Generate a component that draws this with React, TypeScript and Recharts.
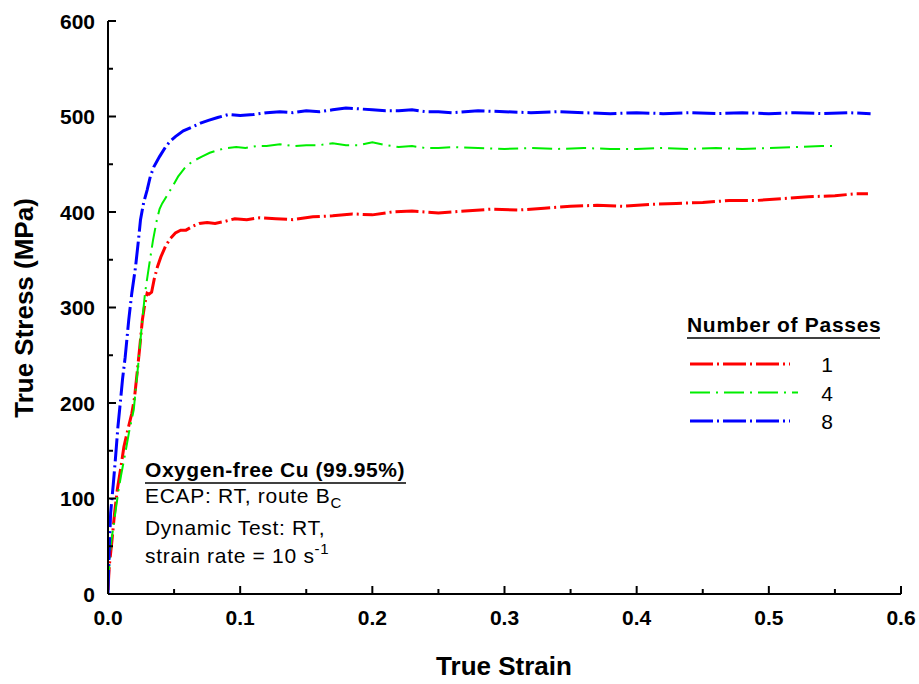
import React from "react";
import { Line, LineChart, XAxis, YAxis } from "recharts";

// 1 pass
const strain1 = [
    0, 0.001, 0.003, 0.005, 0.007, 0.01, 0.012, 0.015, 0.018, 0.02, 0.022, 0.024, 0.026, 0.028,
    0.0296, 0.031, 0.033, 0.035, 0.0375, 0.04, 0.0435, 0.047, 0.051, 0.055, 0.059, 0.064, 0.069,
    0.075, 0.081, 0.088, 0.096, 0.105, 0.115, 0.127, 0.14, 0.155, 0.17, 0.185, 0.2, 0.215, 0.23,
    0.25, 0.27, 0.29, 0.31, 0.33, 0.35, 0.37, 0.39, 0.41, 0.43, 0.45, 0.47, 0.49, 0.51, 0.53, 0.55,
    0.565, 0.575,
];
const stress1 = [
    4, 30, 56, 85, 109, 135, 154, 172, 189, 205, 231, 258, 287, 305, 315, 314, 316, 330, 343, 353,
    364, 372, 378, 381, 381, 385, 388, 389, 388, 390, 393, 392, 394, 393, 392, 395, 396, 398, 397,
    400, 401, 399, 401, 403, 402, 404, 406, 407, 406, 408, 409, 410, 412, 412, 414, 416, 417, 419,
    419,
];

// 4 passes
const strain4 = [
    0, 0.002, 0.005, 0.008, 0.01, 0.013, 0.016, 0.0195, 0.021, 0.023, 0.0255, 0.028, 0.031, 0.034,
    0.037, 0.039, 0.041, 0.045, 0.0485, 0.053, 0.0586, 0.064, 0.071, 0.077, 0.0836, 0.09, 0.097,
    0.104, 0.112, 0.12, 0.13, 0.14, 0.15, 0.16, 0.17, 0.18, 0.19, 0.2, 0.21, 0.22, 0.23, 0.24, 0.25,
    0.26, 0.28, 0.3, 0.32, 0.34, 0.36, 0.38, 0.4, 0.42, 0.44, 0.46, 0.48, 0.5, 0.52, 0.54, 0.551,
];
const stress4 = [
    10, 50, 80, 109, 125, 147, 170, 193, 215, 242, 280, 315, 343, 370, 392, 403, 409, 418, 426, 437,
    447, 453, 458, 462, 465, 467, 468, 467, 469, 469, 471, 469, 470, 470, 472, 470, 470, 473, 470,
    468, 469, 467, 467, 468, 467, 466, 467, 466, 467, 466, 466, 467, 466, 467, 466, 467, 468, 469,
    469,
];

// 8 passes
const strain8 = [
    0, 0.001, 0.002, 0.004, 0.0057, 0.0075, 0.0095, 0.011, 0.013, 0.0157, 0.018, 0.0208, 0.023,
    0.0246, 0.027, 0.0296, 0.032, 0.0346, 0.039, 0.0435, 0.047, 0.051, 0.057, 0.0636, 0.07, 0.076,
    0.083, 0.091, 0.1, 0.11, 0.12, 0.13, 0.14, 0.15, 0.16, 0.17, 0.18, 0.19, 0.2, 0.21, 0.22, 0.23,
    0.24, 0.25, 0.26, 0.28, 0.3, 0.32, 0.34, 0.36, 0.38, 0.4, 0.42, 0.44, 0.46, 0.48, 0.5, 0.52,
    0.54, 0.56, 0.577,
];
const stress8 = [
    1, 50, 85, 115, 143, 175, 203, 225, 248, 287, 315, 342, 370, 392, 410, 423, 437, 447, 458, 468,
    474, 479, 485, 489, 493, 496, 499, 502, 501, 502, 504, 505, 504, 506, 505, 507, 509, 508, 507,
    506, 506, 507, 505, 505, 504, 506, 505, 504, 505, 504, 503, 504, 503, 504, 503, 504, 503, 504,
    503, 504, 503,
];

const passes = ["1", "4", "8"];
const colors = ["#ff0000", "#00ee00", "#0000ff"];
const dashes = ["23 4 2 4", "20 6 2 6", "23 4 2 4"];
const widths = [3, 2, 3];

const xTicks = [0, 0.05, 0.1, 0.15, 0.2, 0.25, 0.3, 0.35, 0.4, 0.45, 0.5, 0.55, 0.6];
const yTicks = [0, 50, 100, 150, 200, 250, 300, 350, 400, 450, 500, 550, 600];

const FONT = "'Liberation Sans', Arial, sans-serif";

const toRows = (xs: number[], ys: number[]) => xs.map((x, i) => ({ strain: x, stress: ys[i] }));
const series = [toRows(strain1, stress1), toRows(strain4, stress4), toRows(strain8, stress8)];

const isMajorX = (v: number) => Math.round(v * 100) % 10 === 0;
const isMajorY = (v: number) => v % 100 === 0;

const LeftTick = (p: any) => {
    const major = isMajorY(p.payload.value);
    return (
        <g>
            <line x1={p.x} x2={p.x + (major ? 8 : 5)} y1={p.y} y2={p.y} stroke="#000" strokeWidth={2} />
            {major && (
                <text x={p.x - 13} y={p.y} dy={7.5} textAnchor="end" fontFamily={FONT} fontWeight="bold" fontSize={21} fill="#000">
                    {p.payload.value}
                </text>
            )}
        </g>
    );
};

const RightTick = (p: any) => {
    const major = isMajorY(p.payload.value);
    return <line x1={p.x} x2={p.x - (major ? 8 : 5)} y1={p.y} y2={p.y} stroke="#000" strokeWidth={2} />;
};

const BottomTick = (p: any) => {
    const major = isMajorX(p.payload.value);
    return (
        <g>
            <line x1={p.x} x2={p.x} y1={p.y} y2={p.y - (major ? 8 : 5)} stroke="#000" strokeWidth={2} />
            {major && (
                <text x={p.x} y={p.y} dy={31} textAnchor="middle" fontFamily={FONT} fontWeight="bold" fontSize={21} fill="#000">
                    {p.payload.value.toFixed(1)}
                </text>
            )}
        </g>
    );
};

const TopTick = (p: any) => {
    const major = isMajorX(p.payload.value);
    return <line x1={p.x} x2={p.x} y1={p.y} y2={p.y + (major ? 8 : 5)} stroke="#000" strokeWidth={2} />;
};

export default function App() {
    return (
        <div style={{ position: "absolute", left: 0, top: 0, width: 919, height: 684, background: "#fff" }}>
            <LineChart width={919} height={684} margin={{ top: 21, right: 18, left: 48, bottom: 30 }}>
                <XAxis
                    dataKey="strain"
                    type="number"
                    domain={[0, 0.6]}
                    ticks={xTicks}
                    height={60}
                    tickSize={0}
                    tickMargin={0}
                    tickLine={false}
                    axisLine={{ stroke: "#000", strokeWidth: 2 }}
                    tick={<BottomTick />}
                    allowDataOverflow
                />
                <XAxis
                    xAxisId="top"
                    orientation="top"
                    dataKey="strain"
                    type="number"
                    domain={[0, 0.6]}
                    ticks={xTicks}
                    height={0}
                    tickSize={0}
                    tickMargin={0}
                    tickLine={false}
                    axisLine={{ stroke: "#000", strokeWidth: 1 }}
                    tick={<TopTick />}
                />
                <YAxis
                    type="number"
                    domain={[0, 600]}
                    ticks={yTicks}
                    width={60}
                    tickSize={0}
                    tickMargin={0}
                    tickLine={false}
                    axisLine={{ stroke: "#000", strokeWidth: 2 }}
                    tick={<LeftTick />}
                    allowDataOverflow
                />
                <YAxis
                    yAxisId="right"
                    orientation="right"
                    type="number"
                    domain={[0, 600]}
                    ticks={yTicks}
                    width={0}
                    tickSize={0}
                    tickMargin={0}
                    tickLine={false}
                    axisLine={{ stroke: "#000", strokeWidth: 2 }}
                    tick={<RightTick />}
                />
                {series.map((rows, i) => (
                    <Line
                        key={passes[i]}
                        data={rows}
                        dataKey="stress"
                        type="linear"
                        stroke={colors[i]}
                        strokeWidth={widths[i]}
                        strokeDasharray={dashes[i]}
                        dot={false}
                        activeDot={false}
                        isAnimationActive={false}
                    />
                ))}
            </LineChart>
            <svg width={919} height={684} style={{ position: "absolute", left: 0, top: 0, pointerEvents: "none" }} fontFamily={FONT}>
                <text x={504} y={675} textAnchor="middle" fontWeight="bold" fontSize={26}>
                    True Strain
                </text>
                <text transform="translate(33,308) rotate(-90)" textAnchor="middle" fontWeight="bold" fontSize={26}>
                    True Stress (MPa)
                </text>

                <text x={145} y={477} fontWeight="bold" fontSize={21} letterSpacing={0.55}>
                    Oxygen-free Cu (99.95%)
                </text>
                <line x1={145} x2={406} y1={483} y2={483} stroke="#000" strokeWidth={1.5} />
                <text x={145} y={503} fontSize={21} letterSpacing={0.7}>
                    ECAP: RT, route B<tspan dy={5} fontSize={15}>C</tspan>
                </text>
                <text x={145} y={535} fontSize={21} letterSpacing={0.7}>
                    Dynamic Test: RT,
                </text>
                <text x={145} y={563} fontSize={21} letterSpacing={0.7}>
                    strain rate = 10 s<tspan dy={-9} fontSize={15}>-1</tspan>
                </text>

                <text x={687} y={332} fontWeight="bold" fontSize={21} letterSpacing={0.7}>
                    Number of Passes
                </text>
                <line x1={687} x2={880} y1={338} y2={338} stroke="#000" strokeWidth={1.5} />
                {passes.map((p, i) => (
                    <g key={p}>
                        <line
                            x1={690}
                            x2={i === 1 ? 798 : 790}
                            y1={364 + i * 28.5}
                            y2={364 + i * 28.5}
                            stroke={colors[i]}
                            strokeWidth={widths[i]}
                            strokeDasharray={dashes[i]}
                        />
                        <text x={827} y={372 + i * 28.5} textAnchor="middle" fontSize={21}>
                            {p}
                        </text>
                    </g>
                ))}
            </svg>
        </div>
    );
}
